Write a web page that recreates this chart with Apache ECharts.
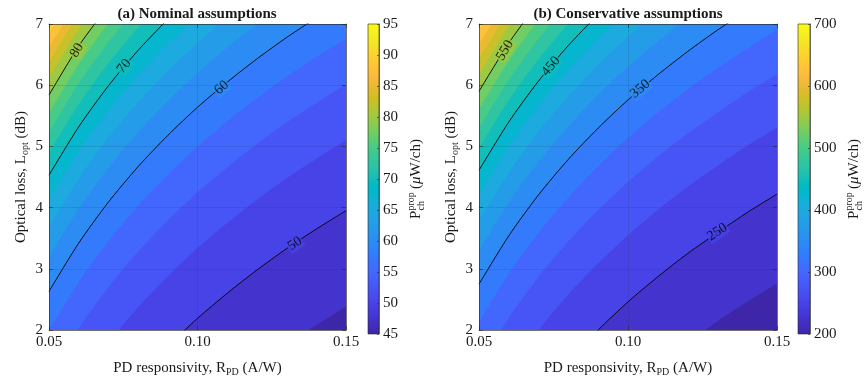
<!DOCTYPE html>
<html>
<head>
<meta charset="utf-8">
<script src="https://cdn.jsdelivr.net/npm/echarts@6/dist/echarts.min.js"></script>
<style>
  html, body { margin: 0; background: #fff; }
  #chart { width: 866px; height: 382px; }
</style>
</head>
<body>
<div id="chart"></div>
<script>
// Responsivity samples (A/W) at which each contour's optical loss (dB) was read
const R_SAMPLES = [0.05, 0.06, 0.07, 0.08, 0.09, 0.10, 0.11, 0.12, 0.13, 0.14, 0.15]

// (a) Nominal assumptions: filled contour levels (uW/ch) and their boundary curves
const LEVELS_A = [47.5, 50, 52.5, 55, 57.5, 60, 62.5, 65, 67.5, 70, 72.5, 75, 77.5, 80, 82.5, 85, 87.5, 90]
const CURVES_A = [
  [-2.39, -1.60, -0.93, -0.35, 0.16, 0.62, 1.03, 1.41, 1.76, 2.08, 2.38],
  [-0.82, -0.03, 0.64, 1.22, 1.73, 2.19, 2.60, 2.98, 3.33, 3.65, 3.95],
  [0.33, 1.12, 1.79, 2.37, 2.88, 3.34, 3.75, 4.13, 4.48, 4.80, 5.10],
  [1.24, 2.03, 2.70, 3.28, 3.79, 4.25, 4.66, 5.04, 5.39, 5.71, 6.01],
  [1.99, 2.78, 3.45, 4.03, 4.54, 5.00, 5.41, 5.79, 6.14, 6.46, 6.76],
  [2.63, 3.42, 4.09, 4.67, 5.18, 5.64, 6.05, 6.43, 6.78, 7.10],
  [3.19, 3.98, 4.65, 5.23, 5.74, 6.20, 6.61, 6.99, 7.34],
  [3.68, 4.47, 5.14, 5.72, 6.23, 6.69, 7.10],
  [4.12, 4.92, 5.59, 6.17, 6.68, 7.13],
  [4.53, 5.32, 5.99, 6.57, 7.08],
  [4.90, 5.69, 6.36, 6.94, 7.45],
  [5.23, 6.03, 6.70, 7.28],
  [5.55, 6.34, 7.01],
  [5.84, 6.64, 7.30],
  [6.12, 6.91, 7.58],
  [6.38, 7.17],
  [6.62, 7.41],
  [6.85, 7.64],
]
const LINES_A = [50, 60, 70, 80]
// [R, L, text, angle]
const LABELS_A = [
  [0.1328, 3.41, '50', 34],
  [0.1081, 5.96, '60', 41],
  [0.0753, 6.31, '70', 51],
  [0.0594, 6.57, '80', 59],
]
const CBAR_A = [45, 95, 5]

// (b) Conservative assumptions
const LEVELS_B = [225, 250, 275, 300, 325, 350, 375, 400, 425, 450, 475, 500, 525, 550, 575, 600, 625, 650]
const CURVES_B = [
  [-2.01, -1.22, -0.55, 0.03, 0.54, 1.00, 1.41, 1.79, 2.14, 2.46, 2.76],
  [-0.56, 0.24, 0.91, 1.49, 2.00, 2.46, 2.87, 3.25, 3.59, 3.92, 4.22],
  [0.54, 1.33, 2.00, 2.58, 3.09, 3.55, 3.96, 4.34, 4.68, 5.01, 5.31],
  [1.41, 2.20, 2.87, 3.45, 3.96, 4.42, 4.83, 5.21, 5.55, 5.88, 6.18],
  [2.13, 2.92, 3.59, 4.17, 4.68, 5.14, 5.55, 5.93, 6.28, 6.60, 6.90],
  [2.75, 3.54, 4.21, 4.79, 5.30, 5.76, 6.17, 6.55, 6.90, 7.22],
  [3.29, 4.09, 4.75, 5.33, 5.85, 6.30, 6.72, 7.10],
  [3.78, 4.57, 5.24, 5.82, 6.33, 6.79, 7.20],
  [4.21, 5.00, 5.67, 6.25, 6.76, 7.22],
  [4.61, 5.40, 6.07, 6.65, 7.16],
  [4.97, 5.76, 6.43, 7.01],
  [5.30, 6.09, 6.76, 7.34],
  [5.61, 6.40, 7.07],
  [5.90, 6.69, 7.36],
  [6.17, 6.96, 7.63],
  [6.43, 7.22],
  [6.67, 7.46],
  [6.90, 7.69],
]
const LINES_B = [250, 350, 450, 550]
const LABELS_B = [
  [0.1300, 3.60, '250', 34],
  [0.1041, 5.94, '350', 40],
  [0.0741, 6.31, '450', 50],
  [0.0587, 6.57, '550', 59],
]
const CBAR_B = [200, 700, 100]

const TITLES = ['(a) Nominal assumptions', '(b) Conservative assumptions']

// MATLAB parula (64 rows)
const PARULA = [
  [0.2422,0.1504,0.6603],[0.2504,0.1650,0.7076],[0.2578,0.1818,0.7511],[0.2647,0.1978,0.7952],
  [0.2706,0.2147,0.8364],[0.2751,0.2342,0.8710],[0.2783,0.2559,0.8991],[0.2803,0.2782,0.9221],
  [0.2813,0.3006,0.9414],[0.2810,0.3228,0.9579],[0.2795,0.3447,0.9717],[0.2760,0.3667,0.9829],
  [0.2699,0.3892,0.9906],[0.2602,0.4123,0.9952],[0.2440,0.4358,0.9988],[0.2206,0.4603,0.9973],
  [0.1963,0.4847,0.9892],[0.1834,0.5074,0.9798],[0.1786,0.5289,0.9682],[0.1764,0.5499,0.9520],
  [0.1687,0.5703,0.9359],[0.1540,0.5902,0.9218],[0.1460,0.6091,0.9079],[0.1380,0.6276,0.8973],
  [0.1248,0.6459,0.8883],[0.1113,0.6635,0.8763],[0.0952,0.6798,0.8598],[0.0689,0.6948,0.8394],
  [0.0297,0.7082,0.8163],[0.0036,0.7203,0.7917],[0.0067,0.7312,0.7660],[0.0433,0.7411,0.7394],
  [0.0964,0.7500,0.7120],[0.1408,0.7584,0.6842],[0.1717,0.7670,0.6554],[0.1938,0.7758,0.6251],
  [0.2161,0.7843,0.5923],[0.2470,0.7918,0.5567],[0.2906,0.7973,0.5188],[0.3406,0.8008,0.4789],
  [0.3909,0.8029,0.4354],[0.4456,0.8024,0.3909],[0.5044,0.7993,0.3480],[0.5616,0.7942,0.3045],
  [0.6174,0.7876,0.2612],[0.6720,0.7793,0.2227],[0.7242,0.7698,0.1910],[0.7738,0.7598,0.1646],
  [0.8203,0.7498,0.1535],[0.8634,0.7406,0.1596],[0.9035,0.7330,0.1774],[0.9393,0.7288,0.2100],
  [0.9728,0.7298,0.2394],[0.9956,0.7434,0.2371],[0.9970,0.7659,0.2199],[0.9952,0.7893,0.2028],
  [0.9892,0.8136,0.1885],[0.9786,0.8386,0.1766],[0.9676,0.8639,0.1643],[0.9610,0.8890,0.1537],
  [0.9597,0.9135,0.1423],[0.9628,0.9373,0.1265],[0.9691,0.9606,0.1064],[0.9769,0.9839,0.0805],
]

const FONT = 'Liberation Serif'
const INK = '#1a1a1a'
const AX = '#262626'

// layout: [left, top, width, height]
const GEOM = [
  { plot: [49, 24, 297, 310], cbar: [368, 24, 11, 310], cbTitle: [416, 179], titleX: 197 },
  { plot: [479, 24, 298, 310], cbar: [798, 24, 12, 310], cbTitle: [854, 179], titleX: 628 },
]

const rgb = (c) => `rgb(${Math.round(c[0] * 255)},${Math.round(c[1] * 255)},${Math.round(c[2] * 255)})`
function parula(t) {
  t = Math.max(0, Math.min(1, t))
  const f = t * (PARULA.length - 1)
  const i = Math.floor(f)
  const j = Math.min(PARULA.length - 1, i + 1)
  const w = f - i
  return rgb([0, 1, 2].map((k) => PARULA[i][k] * (1 - w) + PARULA[j][k] * w))
}

const chart = echarts.init(document.getElementById('chart'), null, { renderer: 'canvas' })

const grid = []
const xAxis = []
const yAxis = []
const series = []
const graphic = []
const title = []

const axisLine = { onZero: false, lineStyle: { color: AX, width: 0.6 } }
const tick = { inside: true, length: 4, lineStyle: { color: AX, width: 0.6 } }
const tickLabel = { fontFamily: FONT, fontSize: 15, color: INK }
const gridLine = { show: true, lineStyle: { color: 'rgba(38,38,38,0.18)', width: 0.7 } }
const nameRich = {
  n: { fontFamily: FONT, fontSize: 15, color: INK, lineHeight: 18 },
  s: { fontFamily: FONT, fontSize: 10, color: INK, lineHeight: 10, verticalAlign: 'bottom' },
}

const panels = [
  { levels: LEVELS_A, curves: CURVES_A, lines: LINES_A, labels: LABELS_A, cbar: CBAR_A },
  { levels: LEVELS_B, curves: CURVES_B, lines: LINES_B, labels: LABELS_B, cbar: CBAR_B },
]

panels.forEach((p, pi) => {
  const g = GEOM[pi]
  const gi = pi * 2
  const xb = pi * 3
  const yb = pi * 3
  const [cmin, cmax, cstep] = p.cbar
  const colorOf = (v) => parula((v - cmin) / (cmax - cmin))

  grid.push({
    left: g.plot[0], top: g.plot[1], width: g.plot[2], height: g.plot[3],
    show: true, backgroundColor: colorOf(cmin), borderWidth: 0,
  })
  grid.push({ left: g.cbar[0], top: g.cbar[1], width: g.cbar[2], height: g.cbar[3] })

  xAxis.push({
    gridIndex: gi, type: 'value', min: 0.05, max: 0.15, interval: 0.05, position: 'bottom', z: 50,
    axisLine, axisTick: tick, splitLine: gridLine,
    axisLabel: { ...tickLabel, margin: 5, formatter: (v) => v.toFixed(2) },
    name: '{n|PD responsivity, R}{s|PD}{n| (A/W)}',
    nameLocation: 'middle', nameGap: 29,
    nameTextStyle: { fontFamily: FONT, fontSize: 15, color: INK, rich: nameRich },
  })
  xAxis.push({
    gridIndex: gi, type: 'value', min: 0.05, max: 0.15, interval: 0.05, position: 'top', z: 50,
    axisLine, axisTick: tick, axisLabel: { show: false }, splitLine: { show: false },
  })
  xAxis.push({ gridIndex: gi + 1, type: 'value', min: 0, max: 1, show: false })

  yAxis.push({
    gridIndex: gi, type: 'value', min: 2, max: 7, interval: 1, position: 'left', z: 50,
    axisLine, axisTick: tick, splitLine: gridLine,
    axisLabel: { ...tickLabel, margin: 6 },
    name: '{n|Optical loss, L}{s|opt}{n| (dB)}',
    nameLocation: 'middle', nameGap: 19,
    nameTextStyle: { fontFamily: FONT, fontSize: 15, color: INK, rich: nameRich },
  })
  yAxis.push({
    gridIndex: gi, type: 'value', min: 2, max: 7, interval: 1, position: 'right', z: 50,
    axisLine, axisTick: tick, axisLabel: { show: false }, splitLine: { show: false },
  })
  yAxis.push({
    gridIndex: gi + 1, type: 'value', min: cmin, max: cmax, interval: cstep, position: 'right', z: 50,
    axisLine, axisTick: { inside: true, length: 2, lineStyle: { color: AX, width: 0.6 } },
    axisLabel: { ...tickLabel, margin: 4 }, splitLine: { show: false },
  })

  // filled bands: region above each level's curve, painted low to high
  p.levels.forEach((lv, k) => {
    series.push({
      type: 'line', xAxisIndex: xb, yAxisIndex: yb, silent: true, z: 2,
      symbol: 'none', smooth: 0.25, lineStyle: { width: 0, opacity: 0 },
      areaStyle: { origin: 'end', color: colorOf(lv), opacity: 1 },
      data: p.curves[k].map((L, i) => [R_SAMPLES[i], L]),
    })
  })

  // black labelled contour lines
  p.lines.forEach((lv) => {
    const k = p.levels.indexOf(lv)
    series.push({
      type: 'line', xAxisIndex: xb, yAxisIndex: yb, silent: true, z: 3,
      symbol: 'none', smooth: 0.25, lineStyle: { color: '#000', width: 0.9 },
      data: p.curves[k].map((L, i) => [R_SAMPLES[i], L]),
    })
  })

  series.push({
    type: 'scatter', xAxisIndex: xb, yAxisIndex: yb, silent: true, z: 4,
    symbolSize: 0,
    label: { show: true, position: 'inside', formatter: '{b}', fontFamily: FONT, fontSize: 14, color: '#000', padding: [0, 1] },
    data: p.labels.map((l) => ({
      name: l[2], value: [l[0], l[1]],
      label: { rotate: l[3], backgroundColor: colorOf(Number(l[2])) },
    })),
  })

  // colorbar
  const stops = PARULA.map((c, i) => ({ offset: i / (PARULA.length - 1), color: rgb(c) }))
  series.push({
    type: 'custom', xAxisIndex: xb + 2, yAxisIndex: yb + 2, silent: true, z: 2,
    data: [[0, cmin, cmax]],
    renderItem: (params, api) => {
      const top = api.coord([0, api.value(2)])
      const bot = api.coord([0, api.value(1)])
      const cs = params.coordSys
      return {
        type: 'rect',
        shape: { x: cs.x, y: top[1], width: cs.width, height: bot[1] - top[1] },
        style: { fill: new echarts.graphic.LinearGradient(0, 1, 0, 0, stops), stroke: AX, lineWidth: 0.6 },
      }
    },
  })

  title.push({
    text: TITLES[pi], left: g.titleX, top: 7, textAlign: 'center', padding: 0,
    textStyle: { fontFamily: FONT, fontSize: 15, fontWeight: 'bold', color: INK },
  })

  graphic.push({
    type: 'group', x: g.cbTitle[0], y: g.cbTitle[1], rotation: Math.PI / 2, silent: true,
    children: [
      { type: 'text', x: -40, y: 0, style: { text: 'P', fontFamily: FONT, fontSize: 15, fill: INK, verticalAlign: 'middle' } },
      { type: 'text', x: -31.5, y: -5, style: { text: 'prop', fontFamily: FONT, fontSize: 10, fill: INK, verticalAlign: 'middle' } },
      { type: 'text', x: -31.5, y: 5, style: { text: 'ch', fontFamily: FONT, fontSize: 10, fill: INK, verticalAlign: 'middle' } },
      {
        type: 'text', x: -10, y: 0,
        style: {
          text: '{n|(}{i|\u03bc}{n|W/ch)}', fill: INK, verticalAlign: 'middle',
          rich: {
            n: { fontFamily: FONT, fontSize: 15, fill: INK },
            i: { fontFamily: FONT, fontSize: 15, fontStyle: 'italic', fill: INK },
          },
        },
      },
    ],
  })
})

chart.setOption({
  animation: false,
  backgroundColor: '#fff',
  title,
  grid,
  xAxis,
  yAxis,
  series,
  graphic,
})
</script>
</body>
</html>
